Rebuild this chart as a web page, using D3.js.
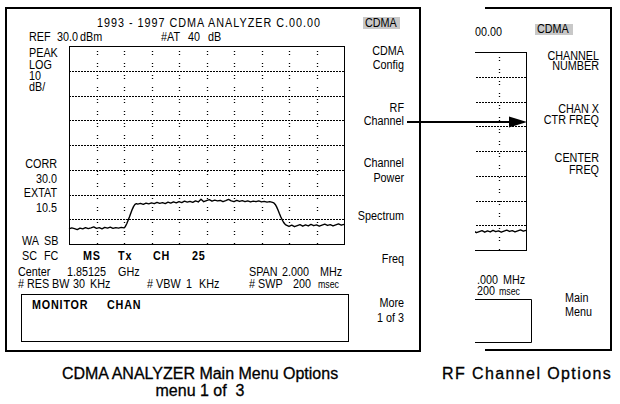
<!DOCTYPE html>
<html>
<head>
<meta charset="utf-8">
<script src="https://cdn.jsdelivr.net/npm/d3@7"></script>
<style>
body{margin:0;background:#fff;}
svg{display:block;font-family:"Liberation Sans",Arial,sans-serif;}
.scr{font-size:13.5px;fill:#000;}
.bold{font-weight:bold;letter-spacing:1px;}
.small{font-size:11px;}
.cap{font-size:16px;fill:#000;stroke:#000;stroke-width:0.3px;white-space:pre;}
</style>
</head>
<body>
<div id="main"></div>
<script>
// sweep points: offset from center freq (MHz) and measured level (dBm)
const sweepMHz = [-1.00,-0.98,-0.96,-0.94,-0.92,-0.90,-0.88,-0.86,-0.84,-0.82,-0.80,-0.78,-0.76,-0.74,-0.72,-0.70,-0.68,-0.66,-0.64,-0.62,-0.60,
  -0.59,-0.58,-0.57,-0.56,-0.55,-0.54,-0.53,-0.52,-0.51,
  -0.50,-0.48,-0.46,-0.44,-0.42,-0.40,-0.38,-0.36,-0.34,-0.32,-0.30,-0.28,-0.26,-0.24,-0.22,-0.20,-0.18,-0.16,-0.14,-0.12,
  -0.10,-0.08,-0.06,-0.04,-0.02,0.00,0.02,0.04,0.06,0.08,0.10,0.12,0.14,0.16,0.18,0.20,0.22,0.24,0.26,0.28,
  0.30,0.32,0.34,0.36,0.38,0.40,0.42,0.44,0.46,0.48,
  0.49,0.50,0.51,0.52,0.53,0.54,0.55,0.56,0.57,0.58,
  0.60,0.62,0.64,0.66,0.68,0.70,0.72,0.74,0.76,0.78,0.80,0.82,0.84,0.86,0.88,0.90,0.92,0.94,0.96,0.98,1.00];
const levelDbm = [-43.9,-43.5,-43.8,-44.2,-43.6,-43.9,-43.4,-43.8,-43.5,-43.1,-43.7,-43.4,-43.9,-43.3,-43.6,-43.2,-43.7,-43.4,-43.6,-43.3,-43.5,
  -42.9,-41.8,-40.4,-39.0,-37.5,-36.0,-34.8,-34.0,-33.7,
  -33.9,-33.6,-34.0,-33.5,-33.8,-33.4,-33.7,-33.2,-33.6,-33.3,-33.7,-33.1,-33.5,-33.0,-33.4,-32.9,-33.3,-32.7,-33.1,-32.8,
  -33.2,-32.6,-33.0,-31.9,-32.9,-32.5,-32.1,-32.7,-32.3,-32.6,-32.4,-32.9,-32.5,-32.0,-32.6,-32.9,-32.4,-32.8,-32.5,-32.9,
  -32.6,-33.0,-32.7,-32.9,-32.6,-33.0,-32.8,-33.1,-32.9,-33.2,
  -33.4,-34.0,-35.0,-36.3,-37.7,-39.0,-40.2,-41.2,-41.9,-42.4,
  -42.9,-42.4,-43.0,-42.6,-42.2,-42.8,-42.3,-42.7,-42.1,-42.6,-42.3,-42.8,-42.4,-42.0,-42.5,-42.2,-42.7,-42.3,-41.9,-42.4,-42.1];

const refLevel = 30;      // dBm, top of screen
const dbPerDiv = 10;
const spanMHz = 2;

const titleText = "1993 - 1997 CDMA ANALYZER C.00.00";
const leftKeys = [["CDMA","Config"],["RF","Channel"],["Channel","Power"],["Spectrum"],["Freq"],["More","1 of 3"]];
const rightKeys = [["CHANNEL","NUMBER"],["CHAN X","CTR FREQ"],["CENTER","FREQ"],["Main","Menu"]];
const captions = ["CDMA ANALYZER Main Menu Options","menu 1 of  3","RF Channel Options"];

const width = 620, height = 404;
const sx = 0.8;   // the instrument font is narrow
const svg = d3.select('#main').append('svg').attr('width', width).attr('height', height);

// screen scales
const xScale = d3.scaleLinear().domain([-spanMHz/2, spanMHz/2]).range([69, 344]);
const yScale = d3.scaleLinear().domain([refLevel - 8*dbPerDiv, refLevel]).range([244, 46]);

// one text element, each item [string, x, y, class] becomes a tspan
function block(g, items, anchor, cls){
  const t = g.append('text').attr('class', 'scr ' + (cls || ''))
    .attr('transform', 'scale(' + sx + ',1)').attr('text-anchor', anchor || 'start');
  items.forEach(d => t.append('tspan').attr('x', d[1] / sx).attr('y', d[2]).attr('class', d[3] || null).text(d[0]));
  return t;
}

// graticule + trace
function drawGrid(g){
  g.append('g').selectAll('line').data(yScale.ticks(8).slice(1, -1)).enter().append('line')
    .attr('x1', 69).attr('x2', 344).attr('y1', d => Math.round(yScale(d)) + .5).attr('y2', d => Math.round(yScale(d)) + .5)
    .attr('stroke', '#000').attr('stroke-dasharray', '2,1').attr('stroke-width', 1);
  g.append('g').selectAll('line').data(xScale.ticks(10).slice(1, -1)).enter().append('line')
    .attr('y1', 47).attr('y2', 244).attr('x1', d => Math.round(xScale(d)) + .5).attr('x2', d => Math.round(xScale(d)) + .5)
    .attr('stroke', '#000').attr('stroke-dasharray', '1,2,1,8').attr('stroke-dashoffset', -4).attr('stroke-width', 1.3);
  g.append('rect').attr('x', 69.5).attr('y', 46.5).attr('width', 275).attr('height', 198)
    .attr('fill', 'none').attr('stroke', '#000');

  const line = d3.line().x((d, i) => xScale(sweepMHz[i])).y(d => yScale(d));
  g.append('path').datum(levelDbm).attr('d', line).attr('fill', 'none')
    .attr('stroke', '#000').attr('stroke-width', 1.4).attr('stroke-linejoin', 'round');
}

// ---- left panel
const left = svg.append('g');
left.append('rect').attr('x', 6).attr('y', 8).attr('width', 414).attr('height', 343)
  .attr('fill', 'none').attr('stroke', '#000').attr('stroke-width', 2);
drawGrid(left);

block(left, [[titleText, 97, 27.5]]).select('tspan')
  .attr('textLength', 223 / sx).attr('lengthAdjust', 'spacing');
block(left, [["REF",29],["30.0",57],["dBm",80],["#AT",161],["40",188],["dB",208]].map(d => [d[0], d[1], 41.5]));
block(left, ["PEAK","LOG","10","dB/"].map((s, i) => [s, 29, 57.5 + i*11.3]));
block(left, ["CORR","30.0","EXTAT","10.5"].map((s, i) => [s, 57, 168 + i*14.6]), 'end');
block(left, [["WA",22,245],["SB",44,245]]);
block(left, [["SC",22,260],["FC",44,260],["MS",83,260,'bold'],["Tx",118,260,'bold'],["CH",153,260,'bold'],["25",192,260,'bold']]);
block(left, [["Center",18,276.5],["1.85125",67,276.5],["GHz",118,276.5],["SPAN",249,276.5],["2.000",282,276.5],["MHz",320,276.5],
  ["#",18,288],["RES",27,288],["BW",52,288],["30",73,288],["KHz",90,288],["#",147,288],["VBW",156,288],["1",186,288],["KHz",199,288],
  ["#",249,288],["SWP",258,288],["200",293,288],["msec",318,288,'small']]);

left.append('rect').attr('x', 21.5).attr('y', 294.5).attr('width', 327).attr('height', 47)
  .attr('fill', 'none').attr('stroke', '#000');
block(left, [["MONITOR",32,309.5],["CHAN",107,309.5]], 'start', 'bold');

left.append('rect').attr('x', 363).attr('y', 17).attr('width', 37).attr('height', 12).attr('fill', '#c8c8c8');
block(left, [["CDMA", 365, 27.5]]);
const keyY = [[50, 64], [107, 120], [162, 177], [215], [258], [302, 317]];
leftKeys.forEach((k, i) => block(left, k.map((s, j) => [s, 404, keyY[i][j] + 4.8]), 'end'));

// ---- right panel: zoomed slice of the same screen
const right = svg.append('g');
right.append('path').attr('d', 'M485,8H611V350H485').attr('fill', 'none').attr('stroke', '#000').attr('stroke-width', 2);
svg.append('clipPath').attr('id', 'slice').append('rect').attr('x', 475).attr('y', 40).attr('width', 56).attr('height', 220);
drawGrid(right.append('g').attr('clip-path', 'url(#slice)').append('g').attr('transform', 'translate(182,6)'));
block(right, [["00.00", 475, 36.5]]);
block(right, [[".000",477,284.5],["MHz",503,284.5],["200",477,295],["msec",499,295,'small']]);
right.append('path').attr('d', 'M475,299.5H531.5V342.5H475').attr('fill', 'none').attr('stroke', '#000');
right.append('rect').attr('x', 535).attr('y', 24).attr('width', 38).attr('height', 11).attr('fill', '#c8c8c8');
block(right, [["CDMA", 537, 33.5]]);
const rKeyY = [[55, 65.5], [108, 119], [157, 169]];
rightKeys.slice(0, 3).forEach((k, i) => block(right, k.map((s, j) => [s, 599, rKeyY[i][j] + 4.8]), 'end'));
block(right, rightKeys[3].map((s, j) => [s, 565, 302.5 + j*14]));

// ---- arrow RF Channel -> CHAN X CTR FREQ
svg.append('line').attr('x1', 407).attr('x2', 512).attr('y1', 122).attr('y2', 122)
  .attr('stroke', '#000').attr('stroke-width', 2);
svg.append('path').attr('d', 'M527,122L509,116.5L509,127.5Z').attr('fill', '#000');

// ---- captions
svg.append('text').attr('class', 'cap').attr('x', 200).attr('y', 378.5).attr('text-anchor', 'middle').text(captions[0]);
svg.append('text').attr('class', 'cap').attr('x', 200).attr('y', 396).attr('text-anchor', 'middle').text(captions[1]);
svg.append('text').attr('class', 'cap').attr('x', 442).attr('y', 378.5).style('letter-spacing', '1.4px').text(captions[2]);
</script>
</body>
</html>
